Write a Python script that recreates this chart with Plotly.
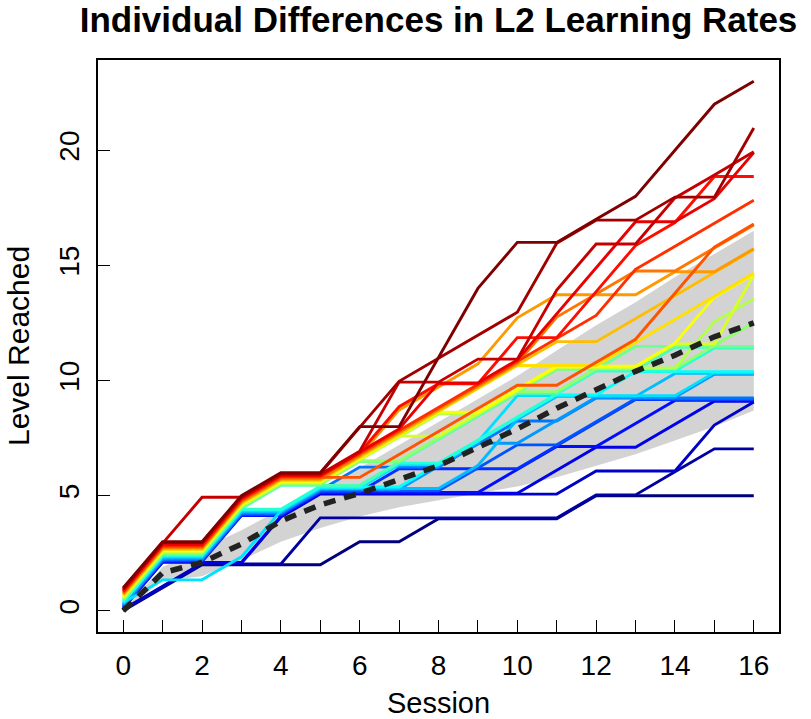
import plotly.graph_objects as go

sessions = list(range(17))

# Level reached (integer) per learner at sessions 0..16, ordered by final level
learner_levels = [
    [0, 1, 2, 2, 2, 2, 3, 3, 4, 4, 4, 4, 5, 5, 5, 5, 5],
    [0, 1, 2, 2, 2, 4, 4, 4, 4, 4, 4, 4, 5, 5, 6, 7, 7],
    [0, 1, 2, 2, 4, 5, 5, 5, 5, 5, 5, 5, 6, 6, 6, 8, 9],
    [0, 2, 2, 2, 4, 5, 5, 5, 5, 5, 5, 6, 7, 7, 8, 9, 9],
    [0, 2, 2, 4, 4, 5, 5, 5, 5, 5, 6, 7, 7, 8, 9, 9, 9],
    [0, 2, 2, 4, 4, 5, 5, 6, 6, 6, 6, 7, 8, 9, 9, 9, 9],
    [0, 2, 2, 4, 4, 5, 5, 5, 5, 6, 7, 7, 8, 9, 9, 9, 9],
    [0, 2, 2, 4, 4, 5, 6, 6, 6, 7, 8, 8, 9, 9, 9, 9, 9],
    [0, 2, 2, 4, 4, 5, 5, 5, 6, 7, 7, 8, 9, 9, 9, 10, 10],
    [0, 2, 2, 4, 4, 5, 5, 5, 5, 6, 8, 9, 9, 9, 10, 10, 10],
    [0, 1, 1, 2, 4, 5, 5, 6, 6, 7, 9, 9, 9, 9, 9, 10, 10],
    [0, 2, 2, 4, 4, 5, 5, 5, 6, 7, 8, 9, 9, 10, 10, 10, 10],
    [0, 2, 2, 4, 4, 5, 5, 6, 6, 7, 8, 9, 10, 10, 10, 11, 11],
    [0, 2, 2, 4, 5, 5, 5, 6, 7, 8, 9, 9, 10, 10, 11, 11, 11],
    [0, 2, 2, 4, 5, 5, 6, 6, 7, 8, 9, 10, 10, 11, 11, 11, 11],
    [0, 2, 2, 4, 5, 5, 6, 6, 7, 8, 9, 9, 10, 10, 10, 11, 12],
    [0, 2, 2, 4, 5, 5, 6, 7, 8, 8, 9, 10, 10, 10, 10, 12, 13],
    [0, 2, 2, 4, 5, 5, 6, 7, 7, 8, 9, 10, 10, 10, 11, 11, 14],
    [0, 2, 2, 4, 5, 5, 6, 7, 8, 8, 9, 10, 10, 10, 11, 13, 14],
    [0, 2, 2, 4, 5, 5, 6, 7, 8, 9, 10, 10, 10, 11, 12, 13, 14],
    [0, 2, 2, 4, 5, 5, 6, 7, 8, 9, 10, 11, 11, 12, 13, 14, 15],
    [0, 2, 2, 4, 5, 5, 6, 8, 9, 10, 12, 13, 13, 13, 14, 14, 15],
    [0, 2, 2, 4, 5, 5, 6, 7, 8, 9, 10, 12, 13, 14, 14, 15, 16],
    [0, 2, 2, 4, 5, 5, 5, 6, 7, 8, 9, 9, 10, 11, 13, 15, 16],
    [0, 2, 2, 4, 5, 5, 6, 7, 8, 9, 10, 11, 12, 14, 15, 16, 17],
    [0, 2, 2, 4, 5, 5, 6, 8, 9, 9, 11, 11, 13, 15, 16, 18, 18],
    [0, 2, 2, 4, 5, 5, 6, 7, 9, 9, 10, 12, 14, 16, 16, 17, 19],
    [0, 2, 4, 4, 5, 5, 6, 9, 9, 10, 10, 13, 15, 15, 17, 18, 19],
    [0, 2, 2, 4, 5, 5, 7, 9, 10, 11, 12, 15, 16, 16, 17, 17, 20],
    [0, 2, 2, 4, 5, 5, 7, 7, 10, 13, 15, 15, 16, 17, 19, 21, 22],
]

# average trajectory and shaded range
mean_level = [0, 1.65, 2.1, 2.9, 3.9, 4.6, 5.1, 5.7, 6.3, 7.1, 7.9, 8.8, 9.6, 10.4, 11.1, 11.9, 12.5]
band_upper = [0, 1.9, 2.7, 3.5, 4.4, 5.3, 6.2, 7.2, 8.2, 9.2, 10.2, 11.3, 12.4, 13.4, 14.5, 15.5, 16.5]
band_lower = [0, 1.3, 1.5, 2.2, 3.0, 3.6, 4.1, 4.5, 4.8, 5.1, 5.4, 5.8, 6.3, 6.8, 7.4, 8.0, 8.7]

x_tick_labels = ["0", "", "2", "", "4", "", "6", "", "8", "", "10", "", "12", "", "14", "", "16"]
y_tick_vals = [0, 5, 10, 15, 20]

jet_anchors = ["#00007F", "#0000FF", "#007FFF", "#00FFFF", "#7FFF7F",
               "#FFFF00", "#FF7F00", "#FF0000", "#7F0000"]


def hex_rgb(h):
    return tuple(int(h[i:i + 2], 16) for i in (1, 3, 5))


def jet(n):
    cols = []
    segs = len(jet_anchors) - 1
    for i in range(n):
        p = i / (n - 1) * segs
        k = min(int(p), segs - 1)
        f = p - k
        a, b = hex_rgb(jet_anchors[k]), hex_rgb(jet_anchors[k + 1])
        c = [round(a[j] + (b[j] - a[j]) * f) for j in range(3)]
        cols.append("rgb(%d,%d,%d)" % tuple(c))
    return cols


n = len(learner_levels)
colors = jet(n)

fig = go.Figure()

fig.add_trace(go.Scatter(x=sessions, y=band_upper, mode="lines",
                         line=dict(width=0, color="#D3D3D3"), hoverinfo="skip",
                         showlegend=False))
fig.add_trace(go.Scatter(x=sessions, y=band_lower, mode="lines",
                         line=dict(width=0, color="#D3D3D3"), fill="tonexty",
                         fillcolor="#D3D3D3", hoverinfo="skip", showlegend=False))

for i, lv in enumerate(learner_levels):
    jitter = i / (n - 1)
    fig.add_trace(go.Scatter(x=sessions, y=[v + jitter for v in lv], mode="lines",
                             line=dict(color=colors[i], width=2.9),
                             showlegend=False))

fig.add_trace(go.Scatter(x=sessions, y=mean_level, mode="lines",
                         line=dict(color="#222222", width=5.5, dash="12px,9px"),
                         showlegend=False))

font_family = "Liberation Sans, Arial, Helvetica, sans-serif"

fig.update_layout(
    width=811, height=719,
    margin=dict(l=98, r=32, t=60, b=87, autoexpand=False),
    paper_bgcolor="white", plot_bgcolor="white",
    font=dict(family=font_family, size=28, color="black"),
    title=dict(text="<b>Individual Differences in L2 Learning Rates</b>",
               x=0.5, xref="paper", xanchor="center",
               y=0.989, yref="container", yanchor="top",
               font=dict(size=35, family=font_family, color="black")),
    xaxis=dict(range=[-0.64, 16.64], tickmode="array", tickvals=sessions,
               ticktext=x_tick_labels, ticks="inside", ticklen=12, tickwidth=1.3,
               tickcolor="black", showline=True, mirror=True, linecolor="black",
               linewidth=1.5, showgrid=False, zeroline=False, automargin=False,
               ticklabelstandoff=8,
               title=dict(text="Session", standoff=27,
                          font=dict(size=29, family=font_family, color="black")),
               tickfont=dict(size=28)),
    yaxis=dict(range=[-0.92, 23.92], tickmode="array", tickvals=y_tick_vals,
               ticks="inside", ticklen=12, tickwidth=1.3, tickcolor="black",
               tickangle=-90, showline=True, mirror=True, linecolor="black",
               linewidth=1.5, showgrid=False, zeroline=False, automargin=False,
               ticklabelstandoff=6,
               tickfont=dict(size=28)),
    annotations=[dict(text="Level Reached", textangle=-90, xref="paper", yref="paper",
                      x=0, y=0.5, xanchor="center", yanchor="middle",
                      xshift=-80, showarrow=False,
                      font=dict(size=30, family=font_family, color="black"))],
)

fig.write_html("out.html", config={"displayModeBar": False},
               post_script="document.body.style.margin='0px';")
